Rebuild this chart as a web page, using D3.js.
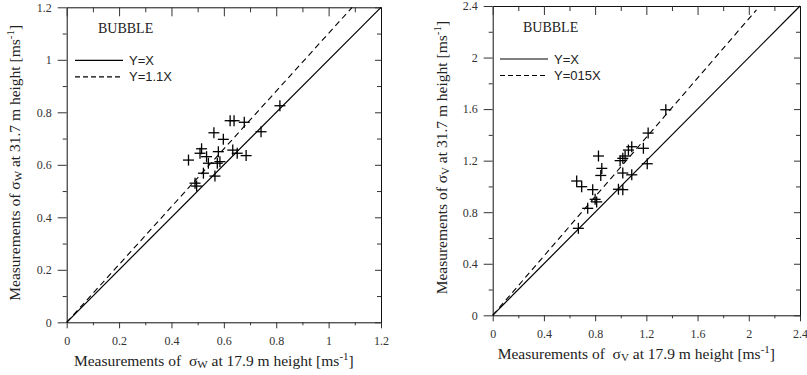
<!DOCTYPE html>
<html>
<head>
<meta charset="utf-8">
<script src="https://cdn.jsdelivr.net/npm/d3@7"></script>
<style>
  body { margin: 0; background: #fff; }
  text { white-space: pre; }
</style>
</head>
<body>
<svg id="chart" width="807" height="375"></svg>
<script>
// ---- data ----
// left panel: sigma_w, 17.9 m (x) vs 31.7 m (y)
var wX = [0.814, 0.742, 0.685, 0.678, 0.639, 0.624, 0.634, 0.651, 0.598, 0.562, 0.579,
          0.585, 0.575, 0.566, 0.515, 0.509, 0.534, 0.541, 0.465, 0.522, 0.490, 0.496];
var wY = [0.825, 0.726, 0.635, 0.762, 0.768, 0.768, 0.656, 0.644, 0.697, 0.722, 0.650,
          0.612, 0.606, 0.557, 0.661, 0.644, 0.631, 0.606, 0.618, 0.568, 0.530, 0.519];
var wTicks = [0, 0.2, 0.4, 0.6, 0.8, 1, 1.2];
var wMinor = [0.1, 0.3, 0.5, 0.7, 0.9, 1.1];
var wSolid = [[0, 0], [1.2, 1.2]];     // Y=X
var wDashed = [[0, 0], [1.09, 1.2]];   // Y=1.1X

// right panel: sigma_v
var vX = [1.352, 1.214, 1.177, 1.207, 1.086, 1.060, 1.034, 1.016, 0.995, 1.016, 1.086, 0.982,
          1.016, 0.826, 0.852, 0.844, 0.656, 0.695, 0.781, 0.800, 0.812, 0.742, 0.669];
var vY = [1.595, 1.414, 1.296, 1.176, 1.308, 1.282, 1.236, 1.218, 1.200, 1.104, 1.090, 0.978,
          0.975, 1.236, 1.140, 1.085, 1.042, 0.998, 0.975, 0.900, 0.880, 0.830, 0.675];
var vTicks = [0, 0.4, 0.8, 1.2, 1.6, 2, 2.4];
var vMinor = [0.2, 0.6, 1.0, 1.4, 1.8, 2.2];
var vSolid = [[0, 0], [2.4, 2.4]];      // Y=X
var vDashed = [[0, 0], [2.06, 2.37]];   // Y=1.15X

var legendLabelsW = ['Y=X', 'Y=1.1X'];
var legendLabelsV = ['Y=X', 'Y=015X'];

var svg = d3.select('#chart');
var serif = '"Liberation Serif", "Times New Roman", serif';
var sans = '"Liberation Sans", Arial, sans-serif';

function drawPanel(p) {
    var x = d3.scaleLinear().domain([0, p.max]).range([p.left, p.right]);
    var y = d3.scaleLinear().domain([0, p.max]).range([p.bottom, p.top]);
    var g = svg.append('g');

    // major axes (bottom / left labelled, top / right mirrored inward)
    function axisStyle(sel) {
        sel.selectAll('path').attr('stroke', '#111');
        sel.selectAll('line').attr('stroke', '#333');
        sel.selectAll('text').attr('fill', '#333').style('font-family', serif).style('font-size', '12px');
    }
    g.append('g').attr('transform', 'translate(0,' + p.bottom + ')')
        .call(d3.axisBottom(x).tickValues(p.ticks).tickSize(6).tickSizeOuter(0).tickPadding(8).tickFormat(String))
        .call(axisStyle);
    g.append('g').attr('transform', 'translate(' + p.left + ',0)')
        .call(d3.axisLeft(y).tickValues(p.ticks).tickSize(9).tickSizeOuter(0).tickPadding(6).tickFormat(String))
        .call(axisStyle);
    g.append('g').attr('transform', 'translate(0,' + p.top + ')')
        .call(d3.axisBottom(x).tickValues(p.ticks).tickSize(9).tickSizeOuter(0).tickFormat(''))
        .call(axisStyle);
    g.append('g').attr('transform', 'translate(' + p.right + ',0)')
        .call(d3.axisLeft(y).tickValues(p.ticks).tickSize(6).tickSizeOuter(0).tickFormat(''))
        .call(axisStyle);

    // minor ticks
    function minorStyle(sel) { sel.select('.domain').remove(); sel.selectAll('line').attr('stroke', '#333'); }
    g.append('g').attr('transform', 'translate(0,' + p.bottom + ')')
        .call(d3.axisBottom(x).tickValues(p.minor).tickSize(3).tickFormat('')).call(minorStyle);
    g.append('g').attr('transform', 'translate(' + p.left + ',0)')
        .call(d3.axisLeft(y).tickValues(p.minor).tickSize(4).tickFormat('')).call(minorStyle);
    g.append('g').attr('transform', 'translate(0,' + p.top + ')')
        .call(d3.axisBottom(x).tickValues(p.minor).tickSize(5).tickFormat('')).call(minorStyle);
    g.append('g').attr('transform', 'translate(' + p.right + ',0)')
        .call(d3.axisLeft(y).tickValues(p.minor).tickSize(4).tickFormat('')).call(minorStyle);

    var line = d3.line().x(function(d) { return x(d[0]); }).y(function(d) { return y(d[1]); });
    g.append('path').attr('d', line(p.solid)).attr('fill', 'none').attr('stroke', '#000').attr('stroke-width', 1.2);
    g.append('path').attr('d', line(p.dashed)).attr('fill', 'none').attr('stroke', '#000')
        .attr('stroke-width', 1.1).attr('stroke-dasharray', '6,4');

    // crosses
    var pts = p.xs.map(function(v, i) { return [v, p.ys[i]]; });
    var s = 5.5;
    var marks = g.selectAll('.pt').data(pts).enter().append('g').attr('class', 'pt')
        .attr('transform', function(d) { return 'translate(' + x(d[0]) + ',' + y(d[1]) + ')'; });
    marks.append('line').attr('x1', -s).attr('x2', s).attr('stroke', '#000').attr('stroke-width', 1.3);
    marks.append('line').attr('y1', -s).attr('y2', s).attr('stroke', '#000').attr('stroke-width', 1.3);

    // BUBBLE + legend
    g.append('text').attr('x', p.legX + 23).attr('y', p.top + 26)
        .style('font-family', serif).style('font-size', '14px').attr('fill', '#222').text('BUBBLE');
    [0, 1].forEach(function(i) {
        var ly = p.top + 53 + i * 16.5;
        g.append('line').attr('x1', p.legX).attr('x2', p.legX + 48).attr('y1', ly).attr('y2', ly)
            .attr('stroke', '#000').attr('stroke-width', 1.2)
            .attr('stroke-dasharray', i ? '5,3' : null);
        g.append('text').attr('x', p.legX + 54).attr('y', ly + 4.5)
            .style('font-family', sans).style('font-size', '13px').attr('fill', '#222').text(p.legend[i]);
    });

    // axis titles
    function title(t, height, gap) {
        t.style('font-family', serif).style('font-size', '15.5px').attr('fill', '#222').attr('text-anchor', 'middle');
        t.append('tspan').text('Measurements of ' + gap + 'σ');
        t.append('tspan').attr('dy', 2).style('font-size', '11px').text(p.sub);
        t.append('tspan').attr('dy', -2).text(' at ' + height + ' m height [ms');
        t.append('tspan').attr('dy', -6).style('font-size', '11px').text('-1');
        t.append('tspan').attr('dy', 6).text(']');
    }
    g.append('text').attr('x', (p.left + p.right) / 2 - 10).attr('y', p.bottom + p.xtDy)
        .call(function(t) { title(t, '17.9', ' '); });
    var cy = (p.top + p.bottom) / 2 - p.ytShift;
    g.append('text').attr('transform', 'translate(' + p.ytX + ',' + cy + ') rotate(-90)')
        .call(function(t) { title(t, '31.7', ''); });
}

drawPanel({
    max: 1.2, left: 66.7, right: 381, top: 7.3, bottom: 322.3,
    ticks: wTicks, minor: wMinor, xs: wX, ys: wY, solid: wSolid, dashed: wDashed,
    legend: legendLabelsW, legX: 75, sub: 'W', xtDy: 44, ytX: 20, ytShift: 2
});
drawPanel({
    max: 2.4, left: 492.7, right: 800, top: 6, bottom: 315.3,
    ticks: vTicks, minor: vMinor, xs: vX, ys: vY, solid: vSolid, dashed: vDashed,
    legend: legendLabelsV, legX: 500, sub: 'V', xtDy: 44, ytX: 447, ytShift: 3
});
</script>
</body>
</html>
